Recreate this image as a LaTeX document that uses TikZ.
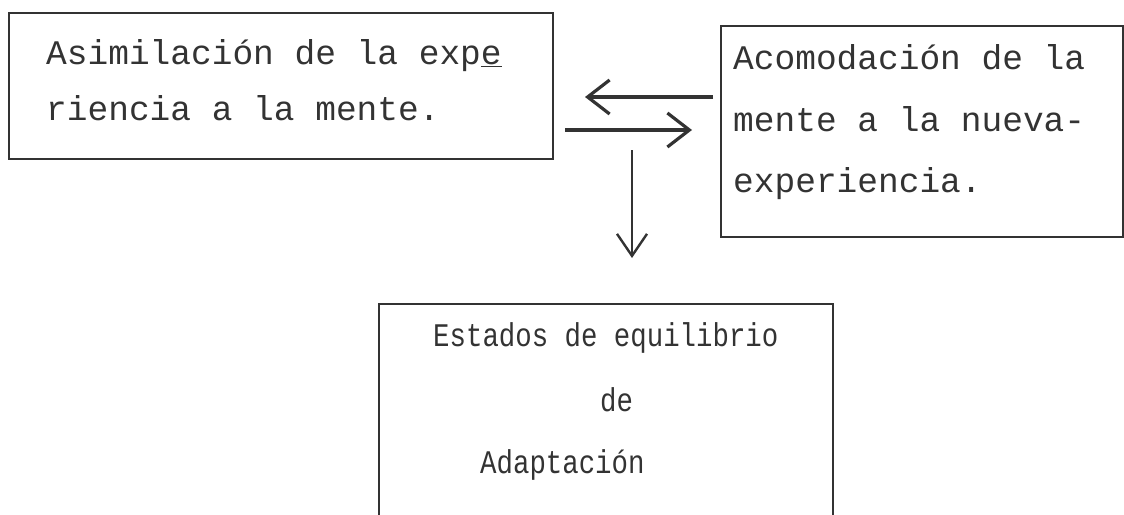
\documentclass[tikz,border=0pt]{standalone}
\usepackage{fontspec}
\setmonofont{Liberation Mono}
\newfontfamily\narrowmono[FakeStretch=0.83]{Liberation Mono}
\usetikzlibrary{arrows.meta}
\tikzset{
  boxline/.style={draw=black!80, line width=1.8pt},
  bigtxt/.style={anchor=base west, inner sep=0pt, text=black!80, font=\ttfamily\fontsize{34.5}{34.5}\selectfont},
  smalltxt/.style={anchor=base west, inner sep=0pt, text=black!80, font=\narrowmono\fontsize{33}{33}\selectfont},
  arr/.style={draw=black!80, line width=3.6pt, -{Straight Barb[length=22pt, width=34pt, line width=3.2pt]}},
  thinarr/.style={draw=black!80, line width=2.4pt, -{Straight Barb[length=22pt, width=30pt, line width=2.4pt]}}
}
\begin{document}
\begin{tikzpicture}[x=1pt,y=-1pt]
\useasboundingbox (0,0) rectangle (1124,514);
\clip (0,0) rectangle (1124,514);
% boxes
\node[boxline, anchor=north west, minimum width=544pt, minimum height=146pt, inner sep=0pt] (L) at (8,12) {};
\node[boxline, anchor=north west, minimum width=402pt, minimum height=211pt, inner sep=0pt] (R) at (720,25) {};
\node[boxline, anchor=north west, minimum width=454pt, minimum height=230pt, inner sep=0pt] (B) at (378,303) {};
% texts
\node[bigtxt] (l1) at (46,64) {Asimilación de la exp\underline{e}};
\node[bigtxt] (l2) at (46,120) {riencia a la mente.};
\node[bigtxt] (r1) at (733,69) {Acomodación de la};
\node[bigtxt] (r2) at (733,131) {mente a la nueva-};
\node[bigtxt] (r3) at (733,192) {experiencia.};
\node[smalltxt] (b1) at (433,346) {Estados de equilibrio};
\node[smalltxt] (b2) at (600,411) {de};
\node[smalltxt] (b3) at (480,473) {Adaptación};
% arrows
\coordinate (la) at (713,97);
\coordinate (lb) at (585,97);
\coordinate (ra) at (565,130);
\coordinate (rb) at (692,130);
\coordinate (da) at (632,150);
\coordinate (db) at (632,258);
\draw[arr] (la) -- (lb);
\draw[arr] (ra) -- (rb);
\draw[thinarr] (da) -- (db);
\end{tikzpicture}
\end{document}
